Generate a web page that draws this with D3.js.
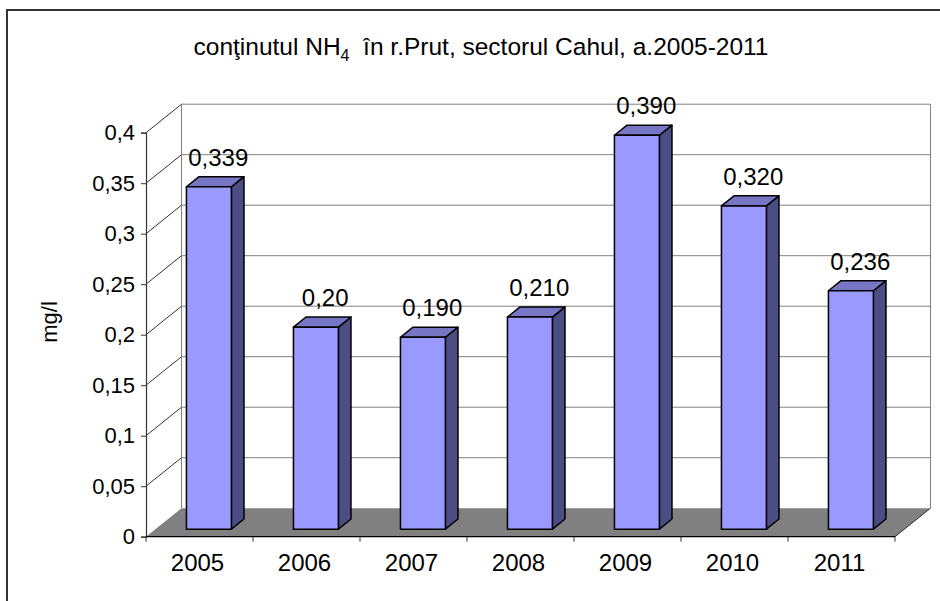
<!DOCTYPE html>
<html>
<head>
<meta charset="utf-8">
<script src="https://cdn.jsdelivr.net/npm/d3@7"></script>
<style>
  html, body { margin: 0; padding: 0; background: #fff; }
  svg { display: block; font-family: "Liberation Sans", Arial, sans-serif; }
  text { white-space: pre; }
</style>
</head>
<body>
<svg id="chart" width="940" height="601"></svg>
<script>
// chart data
const years = ["2005", "2006", "2007", "2008", "2009", "2010", "2011"];
const values = [0.339, 0.20, 0.190, 0.210, 0.390, 0.320, 0.236];
const valueLabels = ["0,339", "0,20", "0,190", "0,210", "0,390", "0,320", "0,236"];
const yTicks = [0, 0.05, 0.1, 0.15, 0.2, 0.25, 0.3, 0.35, 0.4];

const svg = d3.select("#chart");

// front plane + depth of the 3d box
const plotLeft = 146, plotRight = 895;
const plotBottom = 536.7, plotTop = 132.7;
const depthX = 35.5, depthY = -28.5;
const barFront = 0.265, barBack = 0.62;

const x = d3.scaleBand()
  .domain(years)
  .range([plotLeft, plotRight])
  .paddingInner(0.58)
  .paddingOuter(0.29);
const xStep = d3.scaleBand().domain(years).range([plotLeft, plotRight]);
const y = d3.scaleLinear().domain([0, 0.4]).range([plotBottom, plotTop]);

const fmt = (v) => String(+v.toFixed(2)).replace(".", ",");

// outer frame
svg.append("rect")
  .attr("x", 7).attr("y", 10)
  .attr("width", 960).attr("height", 620)
  .attr("fill", "#fff")
  .attr("stroke", "#333").attr("stroke-width", 2);

// title
const title = svg.append("text")
  .attr("x", 481).attr("y", 55)
  .attr("text-anchor", "middle")
  .attr("font-size", 24.5);
title.append("tspan").text("conţinutul NH");
title.append("tspan").attr("font-size", 16).attr("dy", 6).text("4");
title.append("tspan").attr("dy", -6).text("  în r.Prut, sectorul Cahul, a.2005-2011");

// back wall gridlines
const walls = svg.append("g");
walls.selectAll(".grid")
  .data(yTicks.slice(1))
  .join("line")
  .attr("x1", plotLeft + depthX).attr("x2", plotRight + depthX)
  .attr("y1", (d) => y(d) + depthY).attr("y2", (d) => y(d) + depthY)
  .attr("stroke", "#808080").attr("stroke-width", 1);

// side wall diagonals
walls.selectAll(".diag")
  .data(yTicks.slice(1))
  .join("line")
  .attr("x1", plotLeft).attr("y1", (d) => y(d))
  .attr("x2", plotLeft + depthX).attr("y2", (d) => y(d) + depthY)
  .attr("stroke", "#333").attr("stroke-width", 1);

// wall edges
[plotLeft + depthX, plotRight + depthX].forEach((ex) => {
  walls.append("line")
    .attr("x1", ex).attr("x2", ex)
    .attr("y1", y(0.4) + depthY).attr("y2", y(0) + depthY)
    .attr("stroke", "#808080").attr("stroke-width", 1);
});

// floor
svg.append("path")
  .attr("d", `M${plotLeft},${plotBottom}L${plotRight},${plotBottom}L${plotRight + depthX},${plotBottom + depthY}L${plotLeft + depthX},${plotBottom + depthY}Z`)
  .attr("fill", "#808080");
svg.append("line")
  .attr("x1", plotRight).attr("y1", plotBottom)
  .attr("x2", plotRight + depthX).attr("y2", plotBottom + depthY)
  .attr("stroke", "#333").attr("stroke-width", 1);

// axes
const yAxis = d3.axisLeft(y).tickValues(yTicks).tickSize(5).tickPadding(6).tickFormat(fmt);
const gy = svg.append("g").attr("transform", `translate(${plotLeft},0)`).call(yAxis);
gy.select(".domain").attr("stroke", "#333").attr("stroke-width", 1.2);
gy.selectAll(".tick line").attr("stroke", "#333");
gy.selectAll(".tick text").attr("font-size", 22).attr("fill", "#000")
  .attr("font-family", "Liberation Sans, Arial, sans-serif");

const gx = svg.append("g").attr("transform", `translate(0,${plotBottom})`);
gx.append("line").attr("x1", plotLeft).attr("x2", plotRight)
  .attr("stroke", "#000").attr("stroke-width", 1.2);
gx.selectAll(".xt")
  .data(years.map((d) => xStep(d)).concat([plotRight]))
  .join("line")
  .attr("x1", (d) => d).attr("x2", (d) => d)
  .attr("y1", 0).attr("y2", 5)
  .attr("stroke", "#333");
gx.selectAll(".xl")
  .data(years)
  .join("text")
  .attr("x", (d) => xStep(d) + xStep.bandwidth() / 2 - 2)
  .attr("y", 34)
  .attr("text-anchor", "middle")
  .attr("font-size", 24)
  .text((d) => d);

// y title
svg.append("text")
  .attr("transform", "translate(57,322) rotate(-90)")
  .attr("text-anchor", "middle")
  .attr("font-size", 22)
  .text("mg/l");

// bars
const bars = svg.append("g");
years.forEach((yr, i) => {
  const fx = x(yr) + depthX * barFront;
  const fy = depthY * barFront;
  const bx = depthX * (barBack - barFront);
  const by = depthY * (barBack - barFront);
  const w = x.bandwidth();
  const yb = y(0) + fy;
  const yt = y(values[i]) + fy;
  const g = bars.append("g")
    .attr("stroke", "#000").attr("stroke-width", 1.5).attr("stroke-linejoin", "round");
  g.append("path")
    .attr("d", `M${fx + w},${yb}L${fx + w + bx},${yb + by}L${fx + w + bx},${yt + by}L${fx + w},${yt}Z`)
    .attr("fill", "#4d4d85");
  g.append("path")
    .attr("d", `M${fx},${yt}L${fx + bx},${yt + by}L${fx + w + bx},${yt + by}L${fx + w},${yt}Z`)
    .attr("fill", "#7676c4");
  g.append("rect")
    .attr("x", fx).attr("y", yt)
    .attr("width", w).attr("height", yb - yt)
    .attr("fill", "#9999ff");
});

// value labels
svg.append("g").selectAll("text")
  .data(years)
  .join("text")
  .attr("x", (d) => x(d) + x.bandwidth() / 2 + depthX * (barFront + barBack) / 2 + 3)
  .attr("y", (d, i) => y(values[i]) + depthY * barBack - 11)
  .attr("text-anchor", "middle")
  .attr("font-size", 24)
  .text((d, i) => valueLabels[i]);
</script>
</body>
</html>
